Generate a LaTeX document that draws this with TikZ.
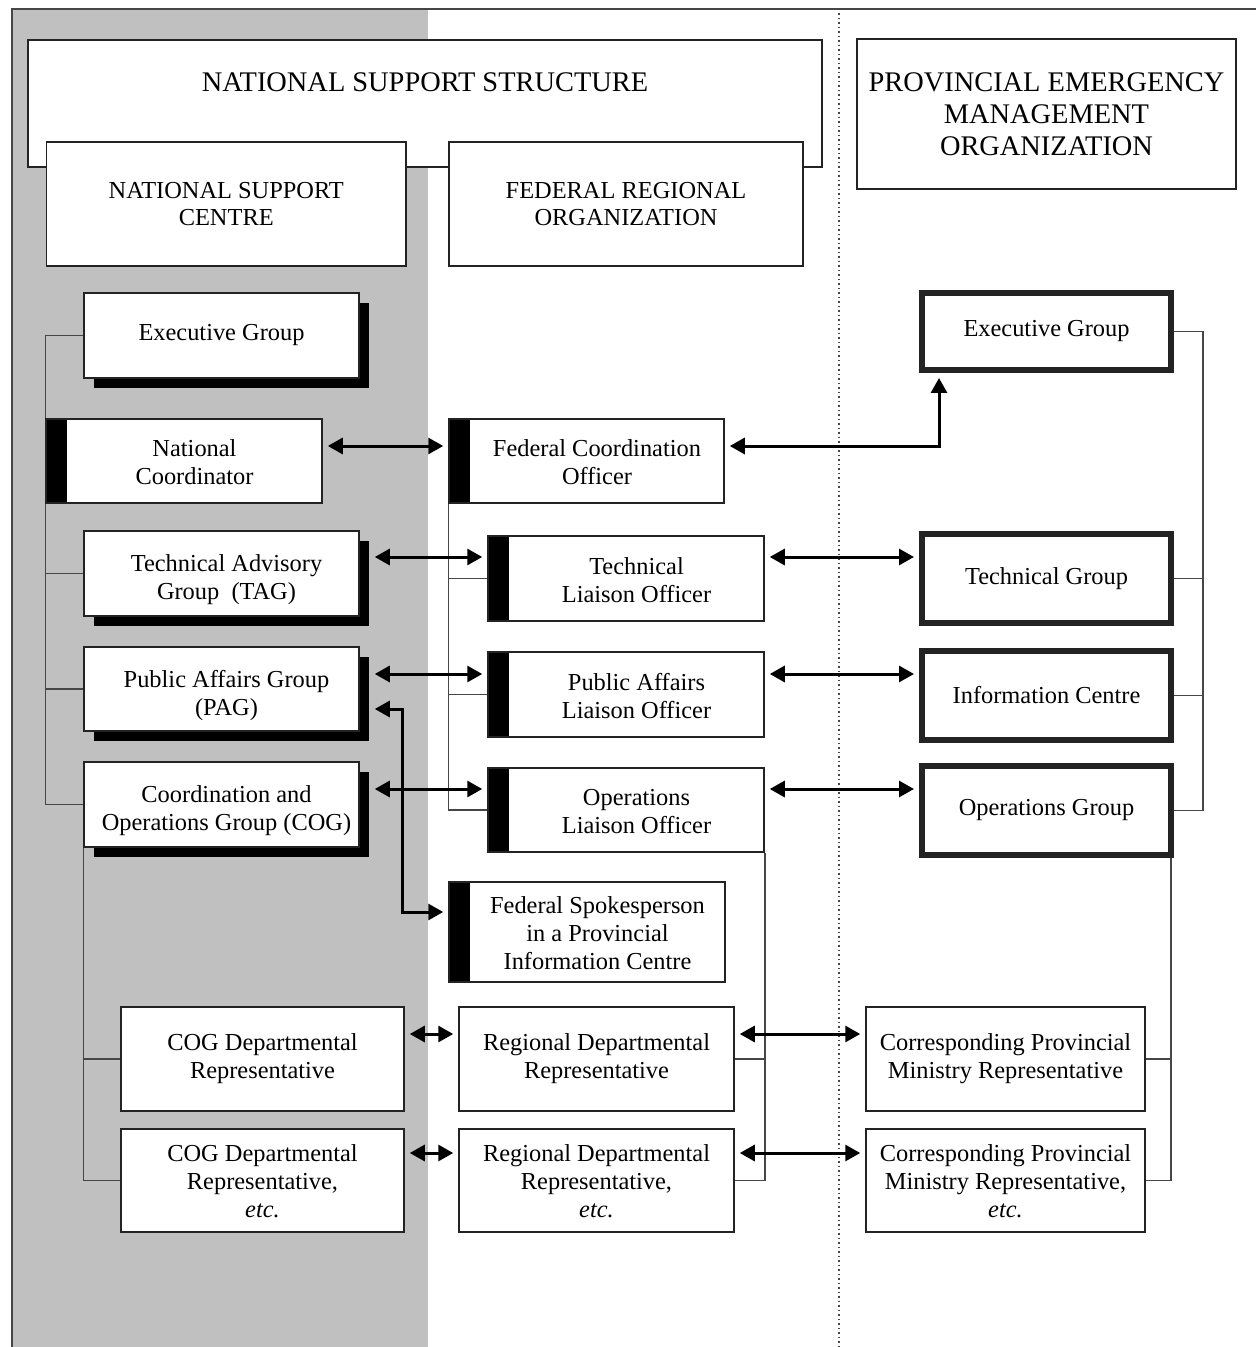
\documentclass[tikz,border=0pt]{standalone}
\usepackage{fontspec}
\setmainfont{Liberation Serif}
\usepackage{xcolor}
\usepackage{tikz}
\usetikzlibrary{arrows.meta, shadows}
\definecolor{panelgray}{RGB}{192, 192, 192}
\definecolor{boxline}{RGB}{35, 35, 35}
\definecolor{treeline}{RGB}{70, 70, 70}
\newcommand{\boxfont}{\fontsize{12.2}{14}\selectfont}
\newcommand{\capfont}{\fontsize{14.2}{16}\selectfont}
% lines of a box, pushed right by #1 and down by the extra first-row height #2
\newcommand{\boxlines}[3]{\hspace*{#1}\begin{tabular}{@{}c@{}}\rule{0pt}{#2}#3\end{tabular}}
\tikzset{
    orgbox/.style={draw=boxline, fill=white, line width=0.75pt, align=center, font=\boxfont,
        inner sep=1pt, minimum width=137.5pt, minimum height=42.5pt},
    shadowbox/.style={orgbox, drop shadow={shadow xshift=5pt, shadow yshift=-5pt, fill=black, opacity=1}},
    barbox/.style={orgbox, path picture={\fill[black] (path picture bounding box.north west)
        rectangle ([xshift=10.5pt]path picture bounding box.south west);}},
    thickbox/.style={orgbox, line width=3pt, minimum width=124.5pt, minimum height=44.5pt},
    headbox/.style={draw=boxline, fill=white, line width=0.75pt, align=center, inner sep=1pt},
    subhead/.style={headbox, font=\fontsize{12.2}{13.5}\selectfont, minimum height=62pt},
    link/.style={line width=1.5pt, {Triangle[length=7.5pt,width=8pt]}-{Triangle[length=7.5pt,width=8pt]},
        shorten <=2.5pt, shorten >=2.5pt},
    tree/.style={draw=treeline, line width=0.75pt}
}

\begin{document}
\begin{tikzpicture}[x=0.5pt, y=-0.5pt]
        \useasboundingbox (0,0) rectangle (1256,1347);
        \fill[panelgray] (12,9) rectangle (428,1347);
        \draw[treeline, line width=0.75pt] (12,1347) -- (12,9) -- (1256,9);
        \draw[treeline, line width=0.75pt, dash pattern=on 0.75pt off 1.5pt] (839,9) -- (839,1347);

        % headings
        \node[headbox, minimum width=397pt, minimum height=63.5pt] (nss) at (425,103.5) {};
        \node[font=\capfont] (nsstitle) at (425,82) {NATIONAL SUPPORT STRUCTURE};
        \node[subhead, minimum width=179.75pt] (nsc) at (226.25,204) {NATIONAL SUPPORT\\CENTRE};
        \node[subhead, minimum width=177pt] (fro) at (626,204) {FEDERAL REGIONAL\\ORGANIZATION};
        \node[headbox, font=\capfont, minimum width=189.5pt, minimum height=75pt] (pemo) at (1046.5,114)
            {PROVINCIAL EMERGENCY\\MANAGEMENT\\ORGANIZATION};

        % national support centre
        \node[shadowbox] (eg) at (221.5,335.5) {Executive Group};
        \node[barbox, minimum width=138pt, minimum height=42pt] (nc) at (184,461)
            {\boxlines{10.5pt}{13.8pt}{National\\Coordinator}};
        \node[shadowbox] (tag) at (221.5,573.5) {\boxlines{5pt}{16.3pt}{Technical Advisory\\Group~~(TAG)}};
        \node[shadowbox, minimum height=42pt] (pag) at (221.5,689) {\boxlines{5pt}{16.3pt}{Public Affairs Group\\(PAG)}};
        \node[shadowbox] (cog) at (221.5,804.5) {\boxlines{5pt}{16.3pt}{Coordination and\\Operations Group (COG)}};
        \node[orgbox, minimum width=141.5pt, minimum height=52pt] (cdr1) at (262.5,1059) {COG Departmental\\Representative};
        \node[orgbox, minimum width=141.5pt, minimum height=51.5pt] (cdr2) at (262.5,1180.5)
            {\boxlines{0pt}{13.3pt}{COG Departmental\\Representative,\\\textit{etc.}}};

        % federal regional organization
        \node[barbox, minimum height=42pt] (fco) at (586.5,461) {\boxlines{10.5pt}{13.8pt}{Federal Coordination\\Officer}};
        \node[barbox, minimum width=138pt] (tlo) at (626,578.5) {\boxlines{10.5pt}{13.8pt}{Technical\\Liaison Officer}};
        \node[barbox, minimum width=138pt] (palo) at (626,694.5) {\boxlines{10.5pt}{13.8pt}{Public Affairs\\Liaison Officer}};
        \node[barbox, minimum width=138pt, minimum height=42pt] (olo) at (626,810)
            {\boxlines{10.5pt}{13.8pt}{Operations\\Liaison Officer}};
        \node[barbox, minimum width=138pt, minimum height=50pt] (fsp) at (587,932)
            {\boxlines{10.5pt}{13.8pt}{Federal Spokesperson\\in a Provincial\\Information Centre}};
        \node[orgbox, minimum height=52pt] (rdr1) at (596.5,1059) {Regional Departmental\\Representative};
        \node[orgbox, minimum height=51.5pt] (rdr2) at (596.5,1180.5)
            {\boxlines{0pt}{13.3pt}{Regional Departmental\\Representative,\\\textit{etc.}}};

        % provincial organization
        \node[thickbox, minimum height=38.5pt] (peg) at (1046.5,331.5) {Executive Group};
        \node[thickbox] (tg) at (1046.5,578.5) {Technical Group};
        \node[thickbox] (ic) at (1046.5,695.5) {Information Centre};
        \node[thickbox] (og) at (1046.5,810.5) {Operations Group};
        \node[orgbox, minimum width=139.5pt, minimum height=52pt] (cpr1) at (1005.5,1059)
            {Corresponding Provincial\\Ministry Representative};
        \node[orgbox, minimum width=139.5pt, minimum height=51.5pt] (cpr2) at (1005.5,1180.5)
            {\boxlines{0pt}{13.3pt}{Corresponding Provincial\\Ministry Representative,\\\textit{etc.}}};

        % reporting lines
        \draw[tree] (eg.west) -| (nc.north west);
        \draw[tree] (nc.south west) |- (tag.west);
        \draw[tree] (nc.south west) |- (pag.west);
        \draw[tree] (nc.south west) |- (cog.west);
        \draw[tree] (cog.south west) |- (cdr1.west);
        \draw[tree] (cog.south west) |- (cdr2.west);
        \draw[tree] (fco.south west) |- (tlo.west);
        \draw[tree] (fco.south west) |- (palo.west);
        \draw[tree] (fco.south west) |- (olo.west);
        \draw[tree] (olo.south east) |- (rdr1.east);
        \draw[tree] (olo.south east) |- (rdr2.east);
        \coordinate (ptrunk) at (1203,331.5);
        \draw[tree] (peg.east) -- (ptrunk) |- (og.east);
        \draw[tree] (ptrunk) |- (tg.east);
        \draw[tree] (ptrunk) |- (ic.east);
        \draw[tree] ([xshift=-1.5pt]og.south east) |- (cpr1.east);
        \draw[tree] ([xshift=-1.5pt]og.south east) |- (cpr2.east);

        % liaison arrows
        \draw[link] ([yshift=7.5pt]nc.east) -- ([yshift=7.5pt]fco.west);
        \draw[link] ([yshift=7.5pt]fco.east) -| ([xshift=10pt]peg.south west);
        \draw[link] ([xshift=5pt,yshift=8.25pt]tag.east) -- ([yshift=10.75pt]tlo.west);
        \draw[link] ([xshift=5pt,yshift=7.5pt]pag.east) -- ([yshift=10.25pt]palo.west);
        \draw[link] ([xshift=5pt,yshift=7.75pt]cog.east) -- ([yshift=10.5pt]olo.west);
        \draw[link] ([xshift=5pt,yshift=-10pt]pag.east) -- ++(33,0) |- ([yshift=10pt]fsp.west);
        \draw[link] ([yshift=10.75pt]tlo.east) -- ([yshift=10.75pt]tg.west);
        \draw[link] ([yshift=10.25pt]palo.east) -- ([yshift=10.75pt]ic.west);
        \draw[link] ([yshift=10.5pt]olo.east) -- ([yshift=10.75pt]og.west);
        \draw[link] ([yshift=12.5pt]cdr1.east) -- ([yshift=12.5pt]rdr1.west);
        \draw[link] ([yshift=13.75pt]cdr2.east) -- ([yshift=13.75pt]rdr2.west);
        \draw[link] ([yshift=12.5pt]rdr1.east) -- ([yshift=12.5pt]cpr1.west);
        \draw[link] ([yshift=13.75pt]rdr2.east) -- ([yshift=13.75pt]cpr2.west);
    \end{tikzpicture}
\end{document}
